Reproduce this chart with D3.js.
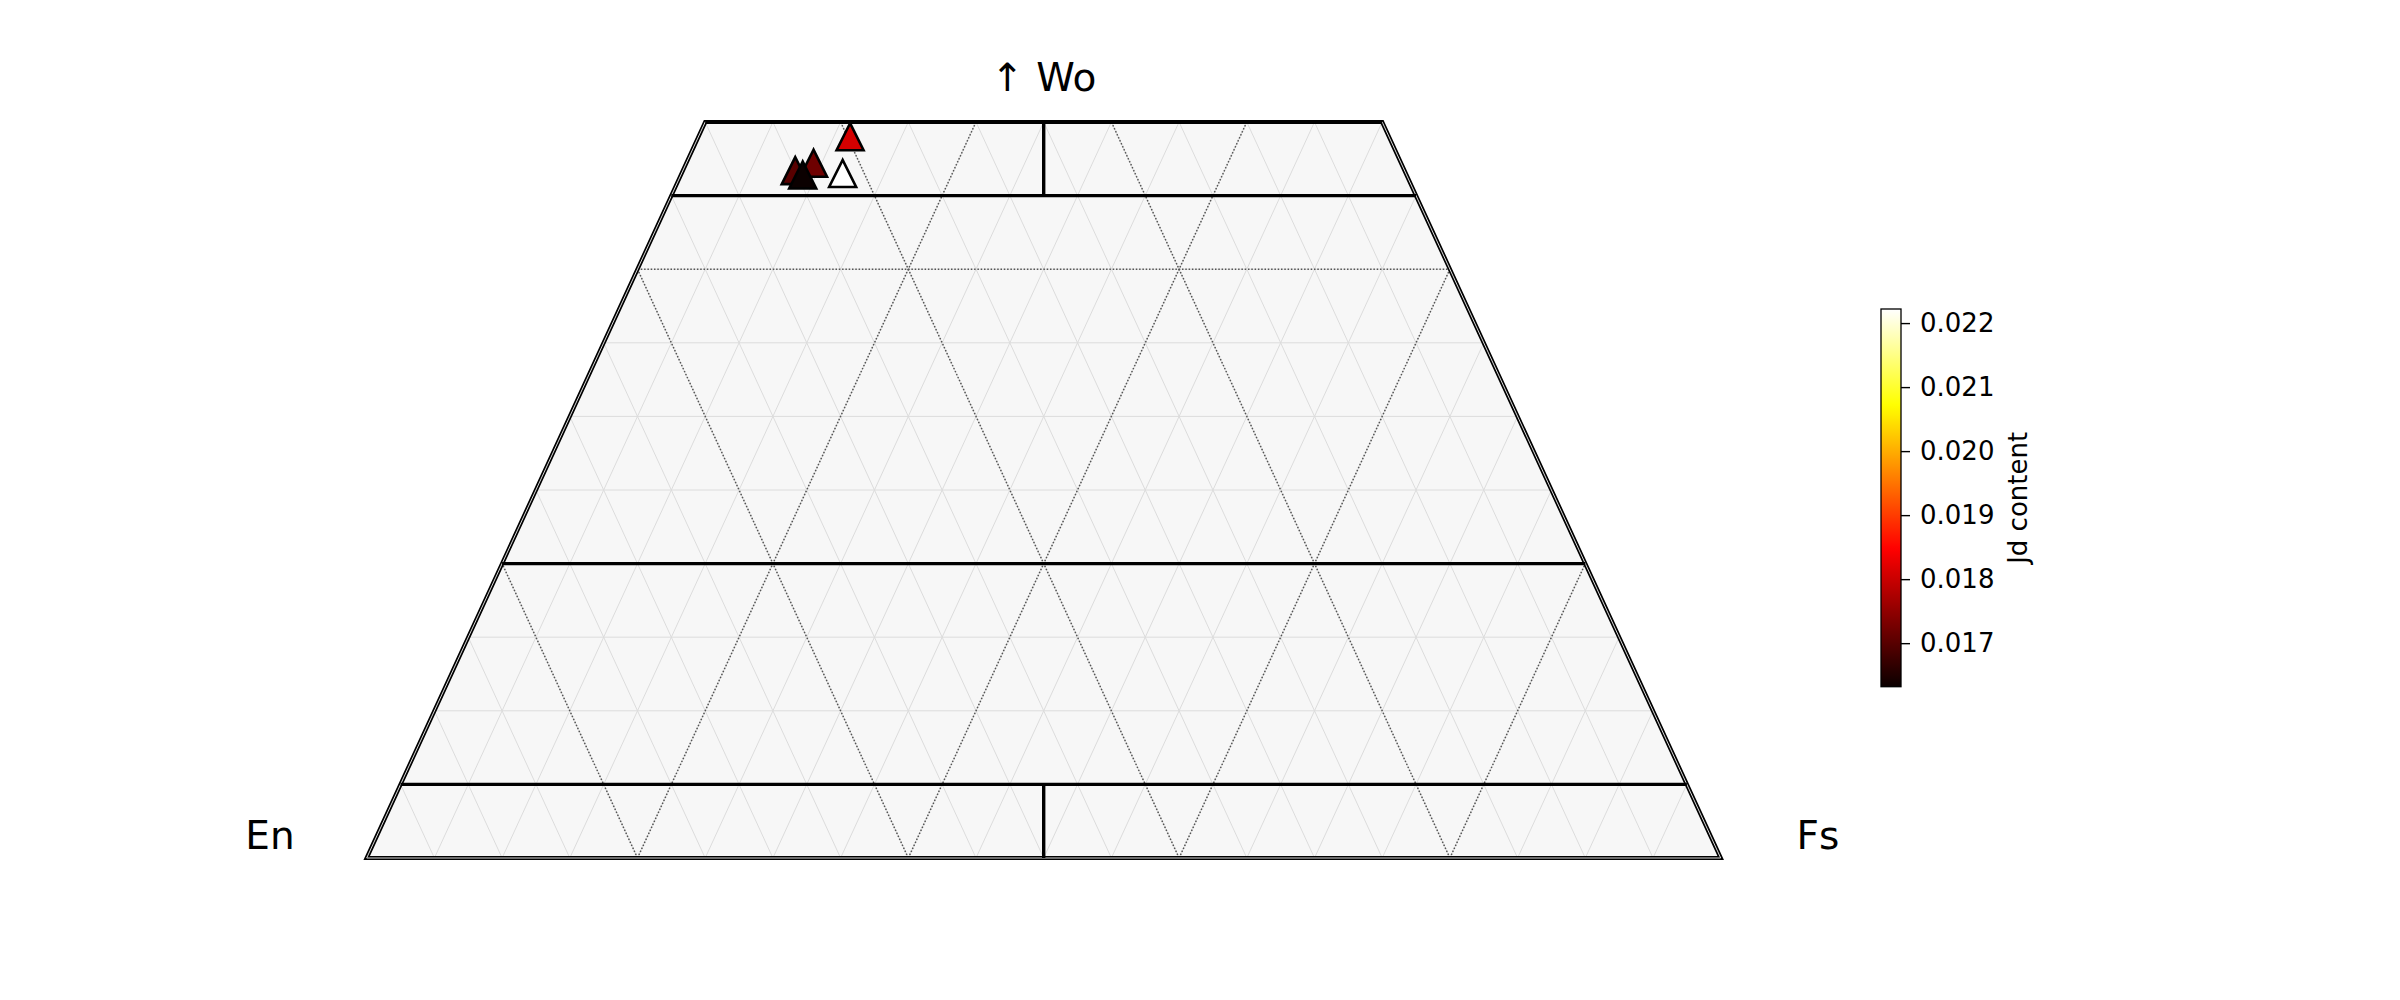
<!DOCTYPE html>
<html>
<head>
<meta charset="utf-8">
<script src="https://cdn.jsdelivr.net/npm/d3@7"></script>
<style>
  html, body { margin: 0; padding: 0; background: #ffffff; }
  svg { display: block; font-family: "DejaVu Sans", sans-serif; }
</style>
</head>
<body>
<svg id="chart" width="2400" height="1000"></svg>
<script>
// ---------- data (percent compositions, Wo + En + Fs = 100) ----------
const sampleIds = ["S1", "S2", "S3", "S4", "S5"];
const woValues  = [46.7, 47.2, 49.0, 46.5, 46.4];
const enValues  = [45.0, 43.4, 39.8, 41.6, 44.6];
const fsValues  = [ 8.3,  9.4, 11.2, 11.9,  9.0];
const jdValues  = [0.0170, 0.0172, 0.0181, 0.02222, 0.01632];

const colorbarTicks = [0.017, 0.018, 0.019, 0.020, 0.021, 0.022];
const vertexLabels = ["En", "Fs", "↑ Wo"];
const colorbarLabel = "Jd content";

// classification boundaries (Wo %) and grid steps
const solidWoLines = [5, 20, 45, 50];
const minorStep = 5;
const majorStep = 20;

// ---------- geometry ----------
const svg = d3.select("#chart");
const baseY = 858, xLeft = 366.7, xRight = 1720.7, fullHeight = 1472;

// x position from (fs + wo/2); y position from wo
const xs = d3.scaleLinear().domain([0, 100]).range([xLeft, xRight]);
const ys = d3.scaleLinear().domain([0, 100]).range([baseY, baseY - fullHeight]);
const pt = (wo, fs) => [xs(fs + wo / 2), ys(wo)];

// trapezoid: Wo 0..50
const trap = [pt(0, 0), pt(0, 100), pt(50, 50), pt(50, 0)];
const line = d3.line();

const defs = svg.append("defs");
defs.append("clipPath").attr("id", "trapClip")
  .append("path").attr("d", line(trap) + "Z");

// colormap "hot" (matplotlib)
function hot(t) {
  t = Math.max(0, Math.min(1, t));
  const a = 0.365079, b = 0.746032;
  const r = t < a ? 0.0416 + (1 - 0.0416) * t / a : 1;
  const g = t < a ? 0 : (t < b ? (t - a) / (b - a) : 1);
  const bl = t < b ? 0 : (t - b) / (1 - b);
  return d3.rgb(r * 255, g * 255, bl * 255).formatHex();
}
const vmin = d3.min(jdValues), vmax = d3.max(jdValues);
const cnorm = d3.scaleLinear().domain([vmin, vmax]).range([0, 1]);
const colorOf = v => hot(cnorm(v));

// background
svg.append("path").attr("d", line(trap) + "Z").attr("fill", "#f7f7f7");

const grid = svg.append("g").attr("clip-path", "url(#trapClip)");

// minor grid lines
const minorVals = d3.range(minorStep, 100, minorStep);
minorVals.forEach(v => {
  grid.append("path").attr("d", line([pt(v, 0), pt(v, 100 - v)]))
    .attr("stroke", "#dcdcdc").attr("stroke-width", 1).attr("fill", "none");
  grid.append("path").attr("d", line([pt(0, v), pt(100 - v, v)]))
    .attr("stroke", "#dcdcdc").attr("stroke-width", 1).attr("fill", "none");
  grid.append("path").attr("d", line([pt(0, 100 - v), pt(100 - v, 0)]))
    .attr("stroke", "#dcdcdc").attr("stroke-width", 1).attr("fill", "none");
});

// major dotted lines
const majorVals = d3.range(majorStep, 100, majorStep);
majorVals.forEach(v => {
  const segs = [
    [pt(v, 0), pt(v, 100 - v)],
    [pt(0, v), pt(100 - v, v)],
    [pt(0, 100 - v), pt(100 - v, 0)]
  ];
  segs.forEach(s => grid.append("path").attr("d", line(s))
    .attr("stroke", "#555555").attr("stroke-width", 1.5)
    .attr("stroke-dasharray", "1.5,1.8").attr("fill", "none"));
});

// outer boundary (double line look)
svg.append("path").attr("d", line(trap) + "Z")
  .attr("fill", "none").attr("stroke", "#000").attr("stroke-width", 4.2)
  .attr("stroke-linejoin", "miter");
svg.append("path").attr("d", line(trap) + "Z")
  .attr("fill", "none").attr("stroke", "#d8d8d8").attr("stroke-width", 1)
  .attr("stroke-linejoin", "miter");

// classification lines
const bounds = svg.append("g");
solidWoLines.forEach(w => {
  bounds.append("path").attr("d", line([pt(w, 0), pt(w, 100 - w)]))
    .attr("stroke", "#000").attr("stroke-width", 3.4).attr("fill", "none");
});
[[0, 5], [45, 50]].forEach(([w0, w1]) => {
  bounds.append("path").attr("d", line([pt(w0, (100 - w0) / 2), pt(w1, (100 - w1) / 2)]))
    .attr("stroke", "#000").attr("stroke-width", 3.4).attr("fill", "none");
});

// markers
const h = 13.5;
const tri = d3.line()([[0, -h], [-h, h], [h, h]]) + "Z";
const data = sampleIds.map((id, i) => ({
  id, wo: woValues[i], en: enValues[i], fs: fsValues[i], jd: jdValues[i]
}));
svg.append("g").selectAll("path").data(data).enter().append("path")
  .attr("d", tri)
  .attr("transform", d => { const p = pt(d.wo, d.fs); return `translate(${p[0]},${p[1]})`; })
  .attr("fill", d => colorOf(d.jd))
  .attr("stroke", "#000").attr("stroke-width", 2.6)
  .attr("stroke-linejoin", "miter");

// vertex labels
svg.append("text").attr("x", 270).attr("y", 849).attr("text-anchor", "middle")
  .attr("font-size", 39).text(vertexLabels[0]);
svg.append("text").attr("x", 1818).attr("y", 849).attr("text-anchor", "middle")
  .attr("font-size", 39).text(vertexLabels[1]);
svg.append("text").attr("x", xs(50)).attr("y", 91).attr("text-anchor", "middle")
  .attr("font-size", 39).text(vertexLabels[2]);

// colorbar
const cbX = 1881, cbW = 20, cbTop = 309, cbBot = 686.7;
const cbScale = d3.scaleLinear().domain([vmin, vmax]).range([cbBot, cbTop]);
const grad = defs.append("linearGradient").attr("id", "cbGrad")
  .attr("x1", 0).attr("y1", 1).attr("x2", 0).attr("y2", 0);
d3.range(0, 1.0001, 0.01).forEach(t => {
  grad.append("stop").attr("offset", t).attr("stop-color", hot(t));
});
svg.append("rect").attr("x", cbX).attr("y", cbTop).attr("width", cbW)
  .attr("height", cbBot - cbTop).attr("fill", "url(#cbGrad)")
  .attr("stroke", "#000").attr("stroke-width", 1.3);

const cbAxis = d3.axisRight(cbScale).tickValues(colorbarTicks)
  .tickFormat(d3.format(".3f")).tickSize(9).tickPadding(10);
const cbG = svg.append("g").attr("transform", `translate(${cbX + cbW},0)`).call(cbAxis);
cbG.select(".domain").remove();
cbG.selectAll(".tick line").attr("stroke", "#000").attr("stroke-width", 1.4);
cbG.selectAll(".tick text").attr("font-size", 26).attr("fill", "#000")
  .attr("font-family", "DejaVu Sans");

svg.append("text")
  .attr("transform", `translate(${2027},${(cbTop + cbBot) / 2}) rotate(-90)`)
  .attr("text-anchor", "middle").attr("font-size", 26).text(colorbarLabel);
</script>
</body>
</html>
